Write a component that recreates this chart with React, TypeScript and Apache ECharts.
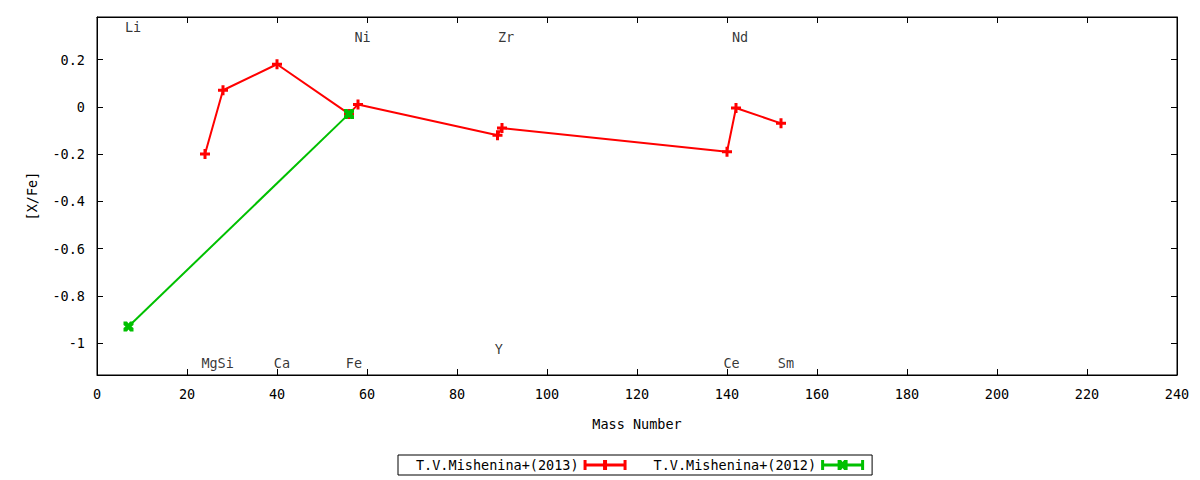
import React, { useEffect, useRef } from "react";
import * as echarts from "echarts";

const redName = "T.V.Mishenina+(2013)";
const greenName = "T.V.Mishenina+(2012)";
const redMass = [24, 28, 40, 56, 58, 89, 90, 140, 142, 152];
const redVal = [-0.2, 0.07, 0.18, -0.03, 0.01, -0.12, -0.09, -0.19, -0.005, -0.07];
const greenMass = [7, 56];
const greenVal = [-0.93, -0.03];

const elemNames = ["Li", "Ni", "Zr", "Nd", "Y", "Mg", "Si", "Ca", "Fe", "Ce", "Sm"];
const elemX = [8.0, 59.0, 90.9, 142.9, 89.3, 25.0, 28.6, 41.1, 57.1, 141.0, 153.1];
const elemY = [0.339, 0.297, 0.297, 0.297, -1.025, -1.085, -1.085, -1.085, -1.085, -1.085, -1.085];

const xTicks = [0, 20, 40, 60, 80, 100, 120, 140, 160, 180, 200, 220, 240];
const yTicks = [-1, -0.8, -0.6, -0.4, -0.2, 0, 0.2];

const FONT = "DejaVu Sans Mono";
const FS = 13.5;
const RED = "#ff0000";
const GREEN = "#00c000";
const plusSym = "path://M3.5,0h3v3.5h3.5v3h-3.5v3.5h-3v-3.5h-3.5v-3h3.5z";
const xSym = "path://M0,0h3.5l1.5,2l1.5,-2h3.5v3.5l-2,1.5l2,1.5v3.5h-3.5l-1.5,-2l-1.5,2h-3.5v-3.5l2,-1.5l-2,-1.5z";
const redIcon = "path://M0,0h3v10h-3z M40,0h3v10h-3z M0,3.5h43v3h-43z M19.5,0h4v10h-4z";
const greenIcon = "path://M0,0h3v10h-3z M40,0h3v10h-3z M0,3.5h43v3h-43z M16.5,0h3.5l1.5,2l1.5,-2h3.5v3.5l-2,1.5l2,1.5v3.5h-3.5l-1.5,-2l-1.5,2h-3.5v-3.5l2,-1.5l-2,-1.5z";

export default function App() {
  const ref = useRef<HTMLDivElement>(null);
  useEffect(() => {
    const chart = echarts.init(ref.current!, undefined, { renderer: "svg" });
    const tickCommon = { show: true, inside: true, length: 6, lineStyle: { color: "#000" } };
    const lineCommon = { show: true, onZero: false, lineStyle: { color: "#000" } };
    chart.setOption({
      animation: false,
      backgroundColor: "#fff",
      textStyle: { fontFamily: FONT },
      grid: { left: 97, right: 23, top: 17, bottom: 105, show: true, borderColor: "#000", borderWidth: 1, backgroundColor: "transparent" },
      legend: {
        left: 398,
        top: 455,
        padding: [3, 8, 3, 18],
        borderColor: "#000",
        borderWidth: 1,
        align: "right",
        itemWidth: 43,
        itemHeight: 10,
        itemGap: 27,
        textStyle: { fontFamily: FONT, fontSize: FS, color: "#000" },
        data: [
          { name: redName, icon: redIcon },
          { name: greenName, icon: greenIcon },
        ],
      },
      xAxis: [
        {
          type: "value",
          min: 0,
          max: 240,
          interval: 20,
          name: "Mass Number",
          nameLocation: "middle",
          nameGap: 42,
          nameTextStyle: { fontFamily: FONT, fontSize: FS, color: "#000" },
          axisLine: lineCommon,
          axisTick: tickCommon,
          axisLabel: { color: "#000", fontFamily: FONT, fontSize: FS, margin: 12 },
          splitLine: { show: false },
        },
        {
          type: "value",
          position: "top",
          min: 0,
          max: 240,
          interval: 20,
          axisLine: lineCommon,
          axisTick: tickCommon,
          axisLabel: { show: false },
          splitLine: { show: false },
        },
      ],
      yAxis: [
        {
          type: "value",
          min: -1.135,
          max: 0.38,
          name: "[X/Fe]",
          nameLocation: "middle",
          nameRotate: 90,
          nameGap: 58,
          nameTextStyle: { fontFamily: FONT, fontSize: FS, color: "#000" },
          axisLine: lineCommon,
          axisTick: { ...tickCommon, customValues: yTicks },
          axisLabel: { color: "#000", fontFamily: FONT, fontSize: FS, margin: 12, customValues: yTicks },
          splitLine: { show: false },
        },
        {
          type: "value",
          position: "right",
          min: -1.135,
          max: 0.38,
          axisLine: lineCommon,
          axisTick: { ...tickCommon, customValues: yTicks },
          axisLabel: { show: false, customValues: yTicks },
          splitLine: { show: false },
        },
      ],
      series: [
        {
          name: redName,
          type: "line",
          data: redMass.map((m, i) => [m, redVal[i]]),
          symbol: plusSym,
          symbolSize: 10,
          lineStyle: { color: RED, width: 2 },
          itemStyle: { color: RED },
          z: 3,
        },
        {
          name: greenName,
          type: "line",
          data: greenMass.map((m, i) => [m, greenVal[i]]),
          symbol: xSym,
          symbolSize: 10,
          lineStyle: { color: GREEN, width: 2 },
          itemStyle: { color: GREEN },
          z: 4,
        },
        {
          name: "labels",
          type: "scatter",
          data: elemNames.map((n, i) => ({ name: n, value: [elemX[i], elemY[i]] })),
          symbolSize: 1,
          itemStyle: { color: "rgba(0,0,0,0)" },
          label: {
            show: true,
            position: "inside",
            formatter: (p: any) => p.name,
            color: "#000",
            fontFamily: FONT,
            fontSize: FS,
          },
          silent: true,
          z: 5,
        },
      ],
    });
    return () => chart.dispose();
  }, []);
  return <div ref={ref} style={{ width: 1200, height: 480, position: "absolute", left: 0, top: 0 }} />;
}
